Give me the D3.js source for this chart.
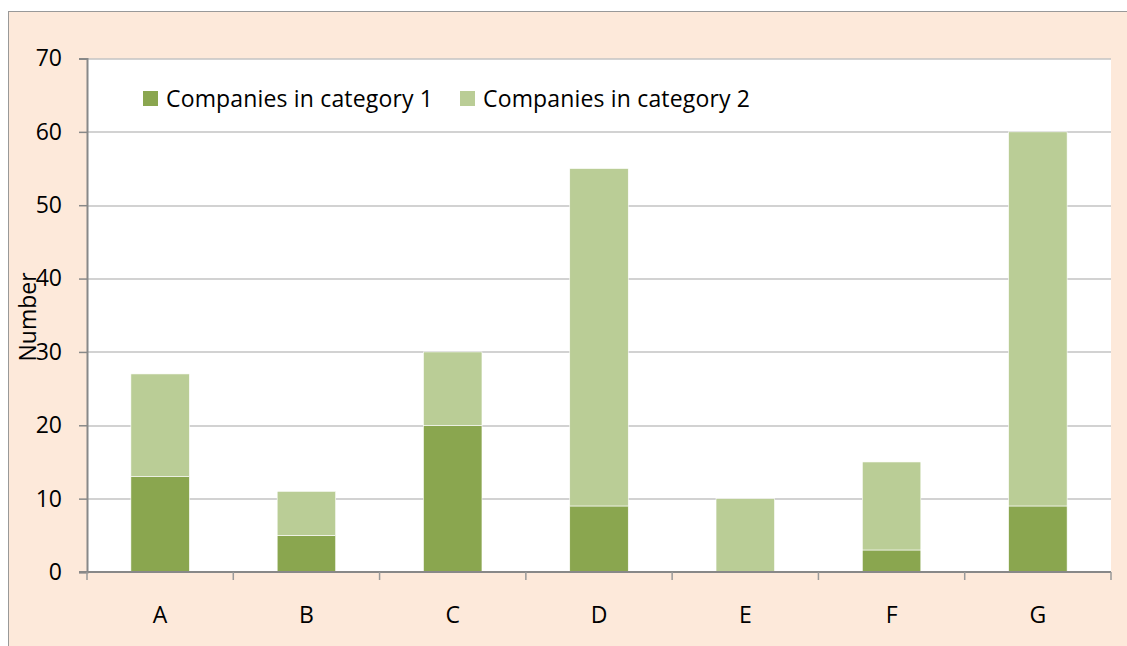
<!DOCTYPE html>
<html>
<head>
<meta charset="utf-8">
<script src="https://cdn.jsdelivr.net/npm/d3@7"></script>
<style>
  body { margin: 0; background: #fff; }
  svg { display: block; font-family: 'Open Sans', sans-serif; }
</style>
</head>
<body>
<svg width="1127" height="646"></svg>
<script>
// Chart data
const categories = ['A', 'B', 'C', 'D', 'E', 'F', 'G'];
const category1 = [13, 5, 20, 9, 0, 3, 9];
const category2 = [14, 6, 10, 46, 10, 12, 51];
const seriesNames = ['Companies in category 1', 'Companies in category 2'];
const yTicks = [0, 10, 20, 30, 40, 50, 60, 70];

const svg = d3.select('svg');
const margin = { top: 58.5, right: 16, bottom: 74, left: 87 };
const width = 1127 - margin.left - margin.right;
const height = 646 - margin.top - margin.bottom;
const colors = ['#8aa64f', '#bacd96'];
const fontSize = 23;

// Outer chart frame
svg.append('rect')
  .attr('x', 8.5)
  .attr('y', 11.5)
  .attr('width', 1140)
  .attr('height', 660)
  .attr('fill', '#fde9da')
  .attr('stroke', '#999')
  .attr('stroke-width', 1);

const g = svg.append('g')
  .attr('transform', 'translate(' + margin.left + ',' + margin.top + ')');

const x = d3.scaleBand().domain(categories).range([0, width]).paddingInner(0.6).paddingOuter(0.3);
const xEdges = d3.scaleBand().domain(categories).range([0, width]);
const y = d3.scaleLinear().domain([0, 70]).range([height, 0]);

// Plot area
g.append('rect')
  .attr('width', width)
  .attr('height', height)
  .attr('fill', '#fff');

// Gridlines
g.selectAll('.grid')
  .data(yTicks.slice(1))
  .enter()
  .append('line')
  .attr('class', 'grid')
  .attr('x1', 0)
  .attr('x2', width)
  .attr('y1', (d) => Math.round(y(d)) + 0.5)
  .attr('y2', (d) => Math.round(y(d)) + 0.5)
  .attr('stroke', '#a6a6a6')
  .attr('stroke-width', 1.2);

// Stacked bars
const rows = categories.map((c, i) => ({ name: c, s0: category1[i], s1: category2[i] }));
const stack = d3.stack().keys(['s0', 's1'])(rows);

g.selectAll('.series')
  .data(stack)
  .enter()
  .append('g')
  .attr('fill', (d, i) => colors[i])
  .selectAll('rect')
  .data((d) => d)
  .enter()
  .append('rect')
  .attr('x', (d) => x(d.data.name))
  .attr('y', (d) => y(d[1]))
  .attr('width', x.bandwidth())
  .attr('height', (d) => y(d[0]) - y(d[1]))
  .attr('stroke', '#fff')
  .attr('stroke-width', 0.6);

// Y axis
const yAxis = g.append('g')
  .call(d3.axisLeft(y).tickValues(yTicks).tickSize(8).tickPadding(17))
  .attr('font-family', null)
  .attr('font-size', fontSize);
yAxis.select('.domain').attr('stroke', '#888').attr('stroke-width', 2);
yAxis.selectAll('.tick line').attr('stroke', '#888').attr('stroke-width', 1.5);
yAxis.selectAll('.tick text').attr('fill', '#000');

// X axis
const xAxis = g.append('g')
  .attr('transform', 'translate(0,' + height + ')');
xAxis.append('line')
  .attr('x1', -8)
  .attr('x2', width)
  .attr('stroke', '#888')
  .attr('stroke-width', 2);
xAxis.selectAll('.xtick')
  .data(categories.concat(['end']))
  .enter()
  .append('line')
  .attr('x1', (d, i) => i < categories.length ? xEdges(d) : width)
  .attr('x2', (d, i) => i < categories.length ? xEdges(d) : width)
  .attr('y1', 0)
  .attr('y2', 8)
  .attr('stroke', '#999')
  .attr('stroke-width', 1.5);
xAxis.selectAll('.xlabel')
  .data(categories)
  .enter()
  .append('text')
  .attr('x', (d) => xEdges(d) + xEdges.bandwidth() / 2)
  .attr('y', 51)
  .attr('text-anchor', 'middle')
  .attr('font-size', fontSize)
  .text((d) => d);

// Y axis title
svg.append('text')
  .attr('transform', 'translate(36,317) rotate(-90)')
  .attr('text-anchor', 'middle')
  .attr('font-size', fontSize)
  .text('Number');

// Legend
const legend = svg.append('g').attr('transform', 'translate(143,91)');
const legendX = [0, 317];
seriesNames.forEach((name, i) => {
  legend.append('rect')
    .attr('x', legendX[i])
    .attr('y', 0)
    .attr('width', 15)
    .attr('height', 15)
    .attr('fill', colors[i]);
  legend.append('text')
    .attr('x', legendX[i] + 23)
    .attr('y', 16)
    .attr('font-size', fontSize)
    .attr('textLength', 267)
    .attr('lengthAdjust', 'spacing')
    .text(name);
});
</script>
</body>
</html>
